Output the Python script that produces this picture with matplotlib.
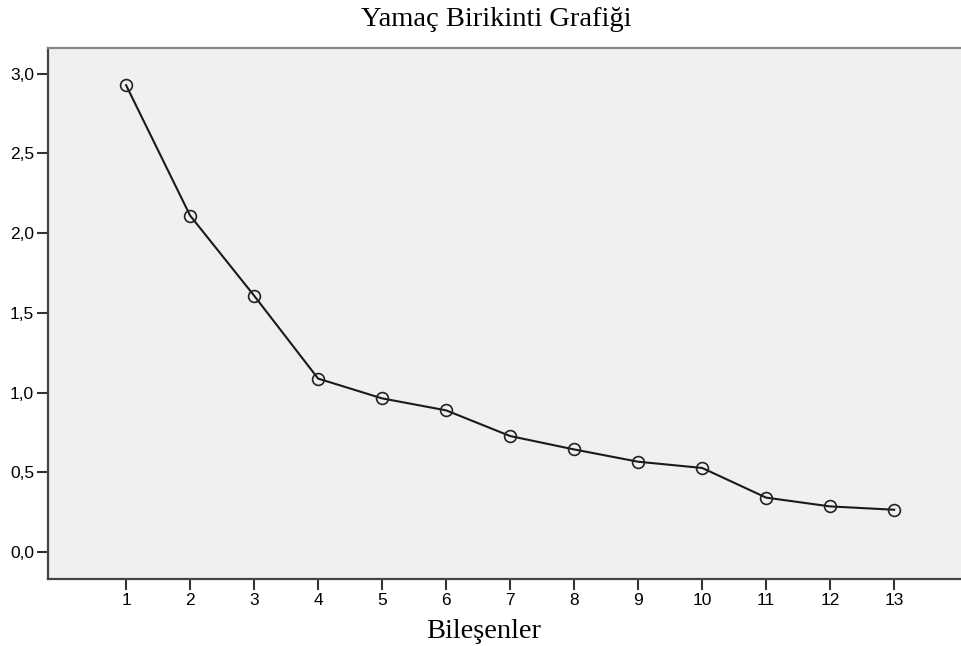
import numpy as np
import matplotlib.pyplot as plt

components = list(range(1, 14))
eigenvalues = [2.927, 2.110, 1.608, 1.088, 0.964, 0.889, 0.728,
               0.644, 0.567, 0.528, 0.342, 0.287, 0.266]
y_ticks = [0.0, 0.5, 1.0, 1.5, 2.0, 2.5, 3.0]
y_tick_labels = ['0,0', '0,5', '1,0', '1,5', '2,0', '2,5', '3,0']

fig = plt.figure(figsize=(9.62, 6.46), dpi=100)
ax = fig.add_axes([48 / 962, 1 - 579 / 646, 1 - 48 / 962, (579 - 48) / 646])
ax.set_facecolor('#f0f0f0')

ax.plot(components, eigenvalues, color='#1a1a1a', lw=1.5,
        marker='o', markersize=8.5, markerfacecolor='none',
        markeredgecolor='#222222', markeredgewidth=1.2)

ax.set_xlim(-0.22, 14.06)
ax.set_ylim(-0.168, 3.16)
ax.set_xticks(components)
ax.set_xticklabels([str(c) for c in components], fontfamily='Liberation Sans', fontsize=12.5)
ax.set_yticks(y_ticks)
ax.set_yticklabels(y_tick_labels, fontfamily='Liberation Sans', fontsize=12.5)
ax.tick_params(length=8, width=1.5, color='#333333', pad=2)

for side in ['left', 'bottom', 'top']:
    ax.spines[side].set_linewidth(1.6)
    ax.spines[side].set_color('#444444')
ax.spines['right'].set_visible(False)
ax.spines['top'].set_color('#888888')

fig.text(496 / 962, 1 - 20 / 646, 'Yamaç Birikinti Grafiği', ha='center', va='center',
         fontfamily='Liberation Serif', fontsize=20.5)
fig.text(484 / 962, 1 - 632 / 646, 'Bileşenler', ha='center', va='center',
         fontfamily='Liberation Serif', fontsize=20.5)

fig.savefig('out.png', dpi=100)
